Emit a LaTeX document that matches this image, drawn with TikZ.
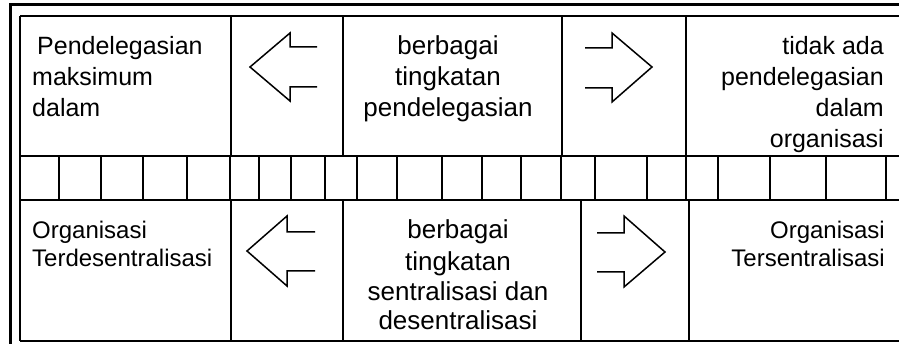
\documentclass[tikz,border=0pt]{standalone}
\usepackage{fontspec}
\setmainfont{Liberation Sans}
\begin{document}
\begin{tikzpicture}[x=1pt,y=-1pt,
  gridline/.style={line width=1.4pt, black},
  framebar/.style={line width=3pt, black},
  blockarrow/.style={line width=1.5pt, black, line join=miter},
  sidelbl/.style={inner sep=0pt, font=\fontsize{25}{30}\selectfont},
  midlbl/.style={inner sep=0pt, font=\fontsize{26}{30}\selectfont},
  orglbl/.style={inner sep=0pt, font=\fontsize{24}{28}\selectfont}
]
\useasboundingbox (0,0) rectangle (899,344);
\fill[white] (0,0) rectangle (899,344);

% outer frame (top and left)
\draw[framebar] (10,5) -- (899,5);
\draw[framebar] (10,3.5) -- (10,344);

% horizontal lines of the table
\draw[gridline] (20,16) -- (899,16);
\draw[gridline] (20,156) -- (899,156);
\draw[gridline] (20,200) -- (899,200);
\draw[gridline] (20,341) -- (899,341);

% vertical lines, top row
\foreach \x in {20,231,343,562,686}
  \draw[gridline] (\x,16) -- (\x,156);
% vertical lines, bottom row
\foreach \x in {20,231,343,581,689}
  \draw[gridline] (\x,200) -- (\x,341);
% ticks of the middle strip
\foreach \x in {20,59,101,143,187,230,259,291,325,357,397,442,482,521,561,595,647,686,718,770,826,886}
  \draw[gridline] (\x,156) -- (\x,200);

% block arrows
\draw[blockarrow] (317,47) -- (290,47) -- (290,33) -- (250,67) -- (290,101) -- (290,87) -- (317,87);
\draw[blockarrow] (585,48) -- (612,48) -- (612,33) -- (652,67) -- (612,102) -- (612,88) -- (585,88);
\draw[blockarrow] (315,232) -- (287,232) -- (287,216) -- (247,251) -- (287,286) -- (287,271) -- (315,271);
\draw[blockarrow] (597,233) -- (624,233) -- (624,216) -- (665,252) -- (624,287) -- (624,272) -- (597,272);

% top row texts
\node[sidelbl, anchor=base west] (tl1) at (37,55) {Pendelegasian};
\node[sidelbl, anchor=base west] (tl2) at (32,86) {maksimum};
\node[sidelbl, anchor=base west] (tl3) at (32,117) {dalam};

\node[midlbl, anchor=base] (tm1) at (448,55) {berbagai};
\node[midlbl, anchor=base] (tm2) at (448,86) {tingkatan};
\node[midlbl, anchor=base] (tm3) at (448,117) {pendelegasian};

\node[sidelbl, anchor=base east] (tr1) at (884,55) {tidak ada};
\node[sidelbl, anchor=base east] (tr2) at (884,86) {pendelegasian};
\node[sidelbl, anchor=base east] (tr3) at (884,117) {dalam};
\node[sidelbl, anchor=base east] (tr4) at (884,148) {organisasi};

% bottom row texts
\node[orglbl, anchor=base west] (bl1) at (32,239) {Organisasi};
\node[orglbl, anchor=base west] (bl2) at (32,267) {Terdesentralisasi};

\node[midlbl, anchor=base] (bm1) at (458,239) {berbagai};
\node[midlbl, anchor=base] (bm2) at (458,271) {tingkatan};
\node[midlbl, anchor=base] (bm3) at (458,301) {sentralisasi dan};
\node[midlbl, anchor=base] (bm4) at (458,330) {desentralisasi};

\node[orglbl, anchor=base east] (br1) at (885,239) {Organisasi};
\node[orglbl, anchor=base east] (br2) at (885,267) {Tersentralisasi};
\end{tikzpicture}
\end{document}
